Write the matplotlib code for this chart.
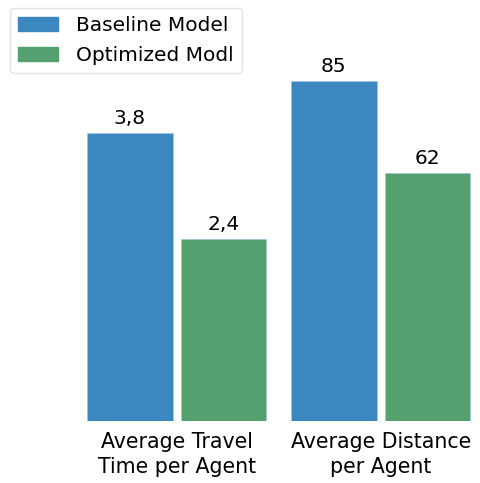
import matplotlib
matplotlib.use("Agg")
import matplotlib.pyplot as plt
from matplotlib.patches import Patch

plt.rcParams['font.family'] = ['DejaVu Sans']

# metrics and model results
metrics = ['Average Travel\nTime per Agent', 'Average Distance\nper Agent']
models = ['Baseline Model', 'Optimized Modl']
travel_time = [3.8, 2.4]
distance = [85, 62]
labels_time = ['3,8', '2,4']
labels_dist = ['85', '62']

blue = '#3d87c1'
green = '#54a06f'

fig = plt.figure(figsize=(4.81, 4.83), dpi=100)
ax = fig.add_axes([0.155, 0.128, 0.84, 0.745])
ax2 = ax.twinx()

w = 0.42
off = 0.23
# travel time on the left scale, distance on the right one
b1 = ax.bar([0 - off, 0 + off], travel_time, w, color=[blue, green],
            edgecolor='#9ec6e6', linewidth=0.4)
b2 = ax2.bar([1 - off, 1 + off], distance, w, color=[blue, green],
             edgecolor='#9ec6e6', linewidth=0.4)
ax.bar_label(b1, labels=labels_time, padding=4, fontsize=14.5)
ax2.bar_label(b2, labels=labels_dist, padding=4, fontsize=14.5)

ax.set_ylim(0, 4.75)
ax2.set_ylim(0, 90)
ax.set_xlim(-0.5, 1.48)
ax.set_xticks([0, 1])
ax.set_xticklabels(metrics, fontsize=14.8, linespacing=1.3)
ax.tick_params(axis='x', length=0, pad=8)
ax.set_yticks([])
ax2.set_yticks([])
for a in (ax, ax2):
    for s in a.spines.values():
        s.set_visible(False)

handles = [Patch(color=blue), Patch(color=green)]
fig.legend(handles, models, loc='upper left', bbox_to_anchor=(10 / 481, 1 - 8 / 483),
           borderaxespad=0, fontsize=14.5, frameon=True, edgecolor='#dddddd',
           handlelength=2.0, handletextpad=0.9, labelspacing=0.55)

fig.savefig('out.png', dpi=100)
